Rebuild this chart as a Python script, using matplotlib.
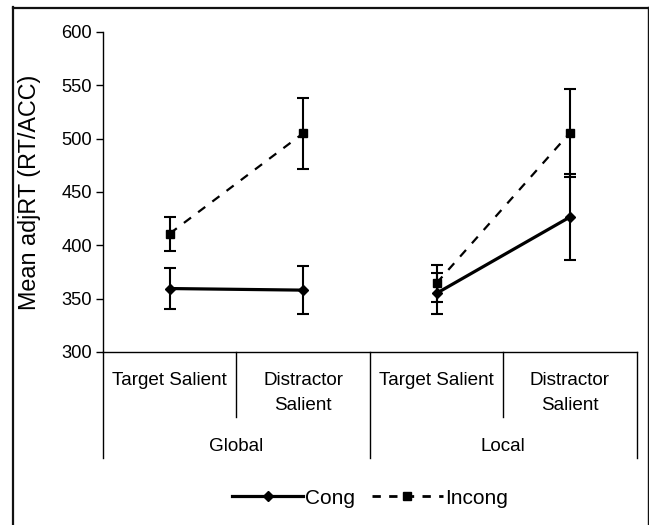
import matplotlib
matplotlib.use('Agg')
import matplotlib.pyplot as plt
from matplotlib.lines import Line2D
from matplotlib.transforms import blended_transform_factory

plt.rcParams['font.family'] = ['Liberation Sans', 'DejaVu Sans']

# ── Data ─────────────────────────────────────────────────────────────────────
conditions = ["Target Salient", "Distractor\nSalient", "Target Salient", "Distractor\nSalient"]
groups = ["Global", "Local"]
cong_mean = [359.5, 358.0, 355.0, 426.5]
cong_err = [19.0, 22.5, 19.5, 40.0]
incong_mean = [411.0, 505.0, 364.5, 505.5]
incong_err = [16.0, 33.0, 17.5, 41.0]
yticks = [300, 350, 400, 450, 500, 550, 600]

W, H = 649, 525
fig = plt.figure(figsize=(W / 100, H / 100), dpi=100)
ax = fig.add_axes([103 / W, 1 - 352 / H, 533.6 / W, 320 / H])

x = list(range(len(conditions)))
# each group is drawn as its own segment (no line between groups)
for g in range(len(groups)):
    idx = [2 * g, 2 * g + 1]
    ax.errorbar([x[i] for i in idx], [incong_mean[i] for i in idx],
                yerr=[incong_err[i] for i in idx], color="black", lw=1.6,
                ls=(0, (4, 4)), marker="s", ms=6.3, elinewidth=1.5, capsize=4.5,
                capthick=1.5, zorder=3)
    ax.errorbar([x[i] for i in idx], [cong_mean[i] for i in idx],
                yerr=[cong_err[i] for i in idx], color="black", lw=2.3,
                ls="-", marker="D", ms=5.5, elinewidth=1.5, capsize=4.5,
                capthick=1.5, zorder=4)

ax.set_xlim(-0.5, len(conditions) - 0.5)
ax.set_ylim(300, 600)
ax.set_yticks(yticks)
ax.tick_params(axis="y", labelsize=13.2, length=5, width=1, pad=3)
ax.set_xticks([])
for s in ["top", "right"]:
    ax.spines[s].set_visible(False)
ax.spines["left"].set_linewidth(1.0)
ax.spines["bottom"].set_linewidth(1.0)
ax.set_ylabel("Mean adjRT (RT/ACC)", fontsize=16.8)
ax.yaxis.set_label_coords(-0.116, 0.5)

# ── Category axis below the plot ─────────────────────────────────────────────
tr = blended_transform_factory(ax.transData, ax.transAxes)
def ay(px):
    return (352 - px) / 320.0

for b in [0.5, 2.5]:
    ax.add_line(Line2D([b, b], [0, ay(417)], transform=tr, color="black", lw=1.0, clip_on=False))
for b in [-0.5, 1.5, 3.5]:
    ax.add_line(Line2D([b, b], [0, ay(458)], transform=tr, color="black", lw=1.0, clip_on=False))

for i, lab in enumerate(conditions):
    for k, line in enumerate(lab.split("\n")):
        ax.text(x[i], ay(385 + 25 * k), line, transform=tr, ha="center",
                va="baseline", fontsize=13.6)
for g, lab in enumerate(groups):
    ax.text(2 * g + 0.5, ay(451), lab, transform=tr, ha="center", va="baseline", fontsize=13.6)

# ── Legend ───────────────────────────────────────────────────────────────────
h_cong = Line2D([], [], color="black", lw=2.3, marker="D", ms=5.5)
h_incong = Line2D([], [], color="black", lw=2.0, ls=(0, (3, 3)), marker="s", ms=6)
fig.legend([h_cong, h_incong], ["Cong", "Incong"], loc="center",
           bbox_to_anchor=(370 / W, 1 - 498 / H), ncol=2, frameon=False,
           fontsize=15, handlelength=3.4, handletextpad=0.1, columnspacing=0.8)

# ── Outer frame (no bottom edge) ─────────────────────────────────────────────
fig.add_artist(Line2D([13 / W, 13 / W], [0, 1 - 7 / H], transform=fig.transFigure, color="#111111", lw=1.6))
fig.add_artist(Line2D([13 / W, 648 / W], [1 - 7.5 / H, 1 - 7.5 / H], transform=fig.transFigure, color="#111111", lw=1.6))
fig.add_artist(Line2D([648 / W, 648 / W], [0, 1 - 7 / H], transform=fig.transFigure, color="#111111", lw=1.0))

fig.savefig("out.png", dpi=100)
